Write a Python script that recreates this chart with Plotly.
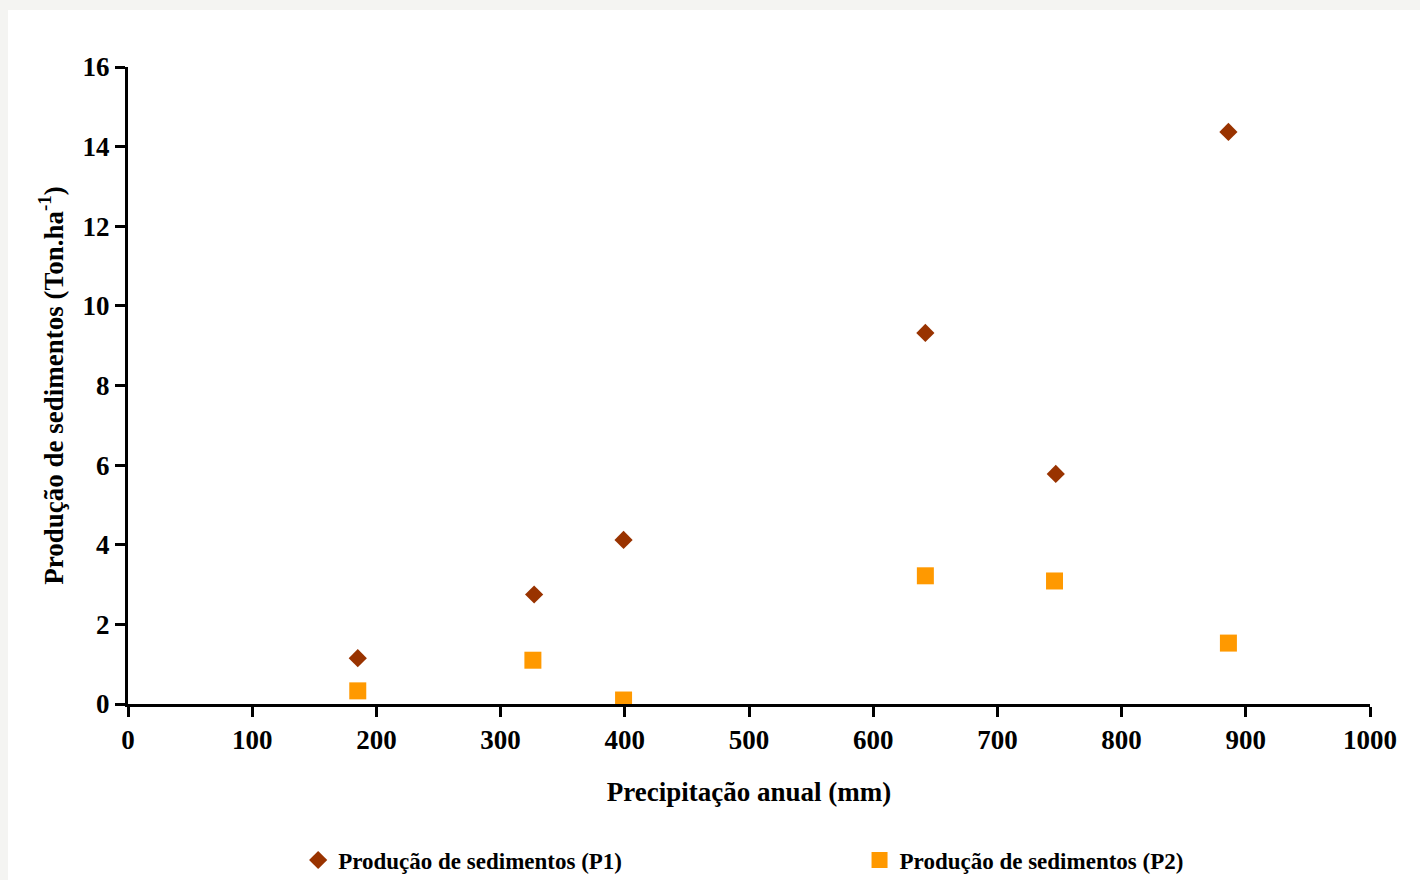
import plotly.graph_objects as go

# Data
precip_p1 = [185, 327, 399, 642, 747, 886]
sed_p1 = [1.15, 2.75, 4.12, 9.32, 5.78, 14.37]
precip_p2 = [185, 326, 399, 642, 746, 886]
sed_p2 = [0.33, 1.10, 0.10, 3.22, 3.09, 1.53]

x_ticks = [0, 100, 200, 300, 400, 500, 600, 700, 800, 900, 1000]
y_ticks = [0, 2, 4, 6, 8, 10, 12, 14, 16]

name_p1 = "Produção de sedimentos (P1)"
name_p2 = "Produção de sedimentos (P2)"
x_title = "Precipitação anual (mm)"
y_title = "Produção de sedimentos (Ton.ha<sup>-1</sup>)"

FONT = "Liberation Serif"

fig = go.Figure()
fig.add_trace(go.Scatter(
    x=precip_p1, y=sed_p1, mode="markers", name=name_p1, legend="legend",
    marker=dict(symbol="diamond", size=14, color="#993300"),
))
fig.add_trace(go.Scatter(
    x=precip_p2, y=sed_p2, mode="markers", name=name_p2, legend="legend2",
    marker=dict(symbol="square", size=17, color="#FF9900"),
))

legend_font = dict(family=FONT, size=23, color="black", weight="bold")

fig.update_layout(
    width=1420, height=880,
    margin=dict(l=128, r=50, t=67, b=176, autoexpand=False),
    paper_bgcolor="#f4f4f2",
    plot_bgcolor="white",
    font=dict(family=FONT, size=24, color="black"),
    showlegend=True,
    legend=dict(
        orientation="h", x=0.137, xanchor="left", y=-0.245, yanchor="middle",
        font=legend_font, bgcolor="rgba(0,0,0,0)", itemsizing="trace",
    ),
    legend2=dict(
        orientation="h", x=0.589, xanchor="left", y=-0.245, yanchor="middle",
        font=legend_font, bgcolor="rgba(0,0,0,0)", itemsizing="trace",
    ),
    shapes=[dict(
        type="rect", xref="paper", yref="paper", layer="below",
        x0=-0.0966, x1=1.1, y0=-0.4, y1=1.0895,
        fillcolor="white", line=dict(width=0),
    )],
)

fig.update_xaxes(
    range=[0, 1000], tickvals=x_ticks, ticktext=[str(v) for v in x_ticks],
    showgrid=False, zeroline=False,
    showline=True, linecolor="black", linewidth=3,
    ticks="outside", ticklen=10, tickwidth=3, tickcolor="black",
    tickfont=dict(family=FONT, size=27, color="black", weight="bold"),
    title=dict(text=x_title, standoff=28,
               font=dict(family=FONT, size=27, color="black", weight="bold")),
)
fig.update_yaxes(
    range=[0, 16], tickvals=y_ticks, ticktext=[str(v) for v in y_ticks],
    showgrid=False, zeroline=False,
    showline=True, linecolor="black", linewidth=3,
    ticks="outside", ticklen=10, tickwidth=3, tickcolor="black",
    tickfont=dict(family=FONT, size=27, color="black", weight="bold"),
    title=dict(text=y_title, standoff=12,
               font=dict(family=FONT, size=27, color="black", weight="bold")),
)

fig.write_html(
    "out.html",
    config={"displayModeBar": False},
    post_script="document.body.style.margin='0';document.body.style.overflow='hidden';",
)
